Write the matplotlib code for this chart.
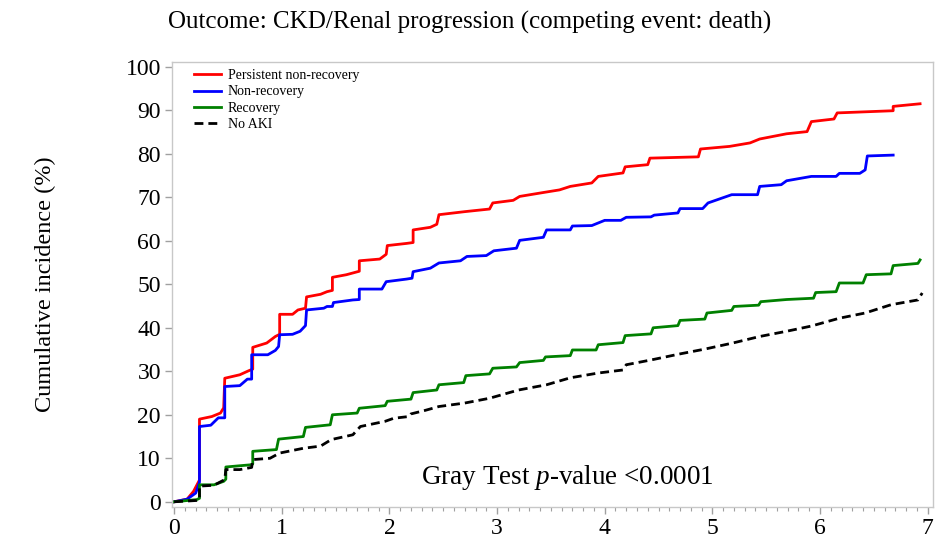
import matplotlib
matplotlib.use("Agg")
import matplotlib.pyplot as plt
from matplotlib.ticker import MultipleLocator

plt.rcParams['font.family'] = ['Liberation Serif', 'DejaVu Serif']
plt.rcParams['mathtext.fontset'] = 'custom'
plt.rcParams['mathtext.rm'] = 'Liberation Serif'
plt.rcParams['mathtext.it'] = 'Liberation Serif:italic'

# ---- data (years, cumulative incidence %) ----
red_t = [0, 0.12, 0.18, 0.235, 0.235, 0.35, 0.43, 0.46, 0.47, 0.61, 0.69, 0.73, 0.73, 0.86, 0.94, 0.98, 0.98,
         1.1, 1.15, 1.22, 1.23, 1.36, 1.42, 1.47, 1.47, 1.6, 1.66, 1.72, 1.72, 1.91, 1.97, 1.98, 2.16, 2.22, 2.22,
         2.38, 2.44, 2.46, 2.70, 2.93, 2.96, 3.15, 3.21, 3.43, 3.58, 3.68, 3.88, 3.94, 4.17, 4.19, 4.40, 4.42,
         4.87, 4.89, 5.16, 5.35, 5.44, 5.69, 5.88, 5.92, 6.13, 6.16, 6.68, 6.68, 6.93]
red_y = [0, 0.6, 2.4, 5, 19.0, 19.6, 20.4, 21.6, 28.4, 29.2, 30.1, 30.5, 35.5, 36.5, 38, 38.5, 43.1,
         43.1, 44.1, 44.5, 47.1, 47.7, 48.3, 48.6, 51.6, 52.2, 52.6, 53, 55.4, 55.8, 56.9, 58.9, 59.4, 59.6, 62.5,
         63.1, 63.8, 66.0, 66.7, 67.3, 68.7, 69.3, 70.2, 71.1, 71.7, 72.5, 73.3, 74.8, 75.6, 77.0, 77.5, 79.0,
         79.3, 81.1, 81.7, 82.5, 83.4, 84.6, 85.1, 87.4, 88.0, 89.4, 89.9, 90.9, 91.5]

blue_t = [0, 0.12, 0.2, 0.235, 0.235, 0.34, 0.41, 0.47, 0.47, 0.61, 0.68, 0.72, 0.72, 0.87, 0.94, 0.97, 0.98,
          1.1, 1.17, 1.22, 1.23, 1.39, 1.42, 1.47, 1.48, 1.66, 1.72, 1.72, 1.93, 1.97, 2.16, 2.21, 2.22, 2.38,
          2.46, 2.66, 2.72, 2.90, 2.97, 3.18, 3.21, 3.43, 3.46, 3.68, 3.70, 3.88, 4.0, 4.15, 4.2, 4.43, 4.46,
          4.68, 4.70, 4.91, 4.96, 5.18, 5.42, 5.44, 5.64, 5.69, 5.92, 6.15, 6.18, 6.37, 6.42, 6.44, 6.68]
blue_y = [0, 0.6, 2, 4.5, 17.3, 17.6, 19.3, 19.3, 26.5, 26.7, 28.2, 28.2, 33.8, 33.8, 34.8, 35.7, 38.4,
          38.5, 39.2, 40.5, 44.1, 44.5, 44.9, 44.9, 45.8, 46.4, 46.5, 48.9, 48.9, 50.6, 51.2, 51.4, 52.9, 53.7,
          54.9, 55.4, 56.4, 56.6, 57.7, 58.3, 60.1, 60.8, 62.5, 62.5, 63.4, 63.5, 64.7, 64.7, 65.4, 65.5, 65.9,
          66.4, 67.4, 67.4, 68.7, 70.6, 70.6, 72.5, 72.9, 73.8, 74.8, 74.8, 75.5, 75.5, 76.3, 79.5, 79.7]

green_t = [0, 0.21, 0.235, 0.235, 0.37, 0.46, 0.48, 0.48, 0.71, 0.73, 0.73, 0.95, 0.97, 1.2, 1.22, 1.45, 1.47,
           1.7, 1.72, 1.96, 1.98, 2.2, 2.22, 2.44, 2.46, 2.69, 2.71, 2.93, 2.96, 3.18, 3.21, 3.43, 3.45, 3.68,
           3.70, 3.92, 3.94, 4.17, 4.19, 4.43, 4.45, 4.68, 4.70, 4.93, 4.95, 5.18, 5.20, 5.43, 5.45, 5.69, 5.94,
           5.96, 6.15, 6.18, 6.40, 6.43, 6.66, 6.68, 6.91, 6.93]
green_y = [0, 0.5, 0.8, 3.9, 3.9, 4.7, 5.2, 8.0, 8.5, 8.7, 11.6, 12.0, 14.4, 15.0, 17.1, 17.7, 20.0,
           20.4, 21.5, 22.1, 23.1, 23.6, 25.1, 25.7, 26.9, 27.4, 29.0, 29.4, 30.7, 31.0, 32.0, 32.5, 33.3, 33.6,
           34.9, 34.9, 36.1, 36.6, 38.2, 38.6, 40.0, 40.5, 41.7, 42.0, 43.4, 44.0, 44.9, 45.2, 46.0, 46.5, 46.8,
           48.1, 48.3, 50.3, 50.3, 52.2, 52.4, 54.3, 54.8, 55.6]

black_t = [0, 0.21, 0.235, 0.235, 0.37, 0.47, 0.48, 0.61, 0.72, 0.73, 0.89, 0.98, 1.2, 1.36, 1.46, 1.66, 1.73,
           1.96, 2.04, 2.18, 2.2, 2.33, 2.46, 2.70, 2.93, 3.2, 3.46, 3.68, 3.94, 4.17, 4.2, 4.43, 4.7, 4.93,
           5.19, 5.44, 5.69, 5.92, 6.18, 6.42, 6.66, 6.91, 6.95]
black_y = [0, 0.3, 0.5, 3.6, 3.8, 5.1, 7.4, 7.4, 7.9, 9.7, 10.0, 11.2, 12.3, 12.8, 14.3, 15.4, 17.3,
           18.5, 19.2, 19.6, 20.2, 21.0, 21.9, 22.7, 23.8, 25.7, 26.9, 28.5, 29.6, 30.3, 31.5, 32.6, 34.0, 35.1,
           36.5, 38.0, 39.2, 40.4, 42.2, 43.4, 45.3, 46.4, 48.0]

labels = ["Persistent non-recovery", "Non-recovery", "Recovery", "No AKI"]
x_ticks = [0, 1, 2, 3, 4, 5, 6, 7]
y_ticks = [0, 10, 20, 30, 40, 50, 60, 70, 80, 90, 100]

fig = plt.figure(figsize=(9.39, 5.43), dpi=100)
ax = fig.add_axes([0.1832, 0.0663, 0.8104, 0.8195])

ax.plot(red_t, red_y, color="#ff0000", lw=2.0, label=labels[0])
ax.plot(blue_t, blue_y, color="#0000ff", lw=2.0, label=labels[1])
ax.plot(green_t, green_y, color="#008000", lw=2.0, label=labels[2])
ax.plot(black_t, black_y, color="black", lw=2.0, linestyle=(0, (3.2, 1.8)), label=labels[3])

ax.set_xlim(-0.02, 7.05)
ax.set_ylim(-1.2, 101.1)
ax.set_xticks(x_ticks)
ax.set_yticks(y_ticks)
ax.xaxis.set_minor_locator(MultipleLocator(0.1))
for s in ax.spines.values():
    s.set_color("#c8c8c8")
    s.set_linewidth(1.0)
ax.tick_params(axis="both", which="major", direction="out", color="#a0a0a0", length=5, width=1,
               labelsize=17, pad=3, labelcolor="black")
ax.tick_params(axis="x", which="minor", direction="out", color="#a0a0a0", length=3, width=0.8)
ax.tick_params(axis="y", which="minor", left=False)

ax.set_ylabel("Cumulative incidence (%)", fontsize=17.5, labelpad=50)
fig.text(0.5, 0.958, "Outcome: CKD/Renal progression (competing event: death)", ha="center", va="center",
         fontsize=18)

ax.text(0.52, 0.066, "Gray Test $\\mathit{p}$-value <0.0001", transform=ax.transAxes, ha="center",
        va="center", fontsize=19.5)

leg = ax.legend(loc="upper left", bbox_to_anchor=(0.022, 0.997), frameon=False, fontsize=10,
                handlelength=1.9, handletextpad=0.5, labelspacing=0.25, borderaxespad=0)

fig.savefig("out.png", dpi=100, facecolor="white")
